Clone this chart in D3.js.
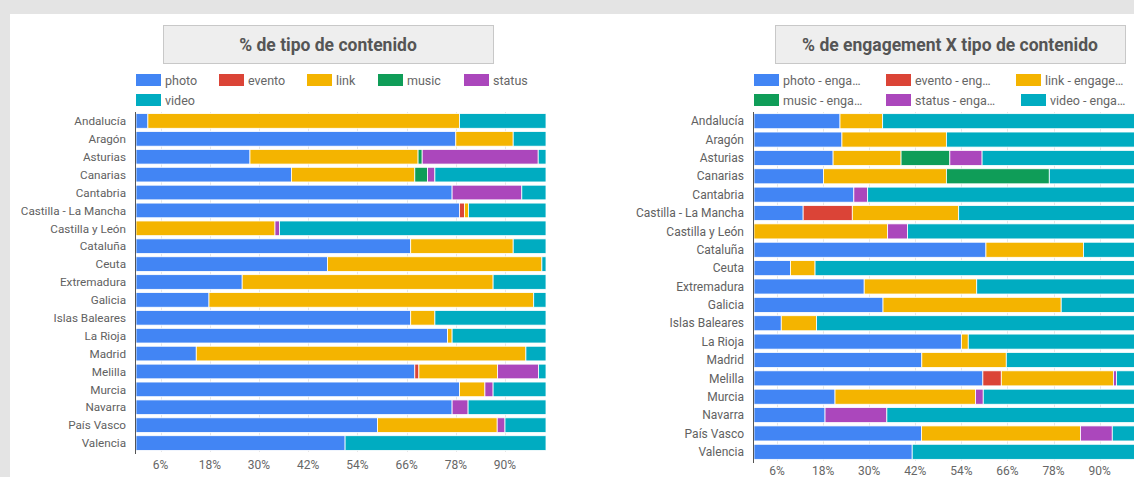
<!DOCTYPE html>
<html>
<head>
<meta charset="utf-8">
<script src="https://cdn.jsdelivr.net/npm/d3@7"></script>
<style>
  html, body { margin: 0; padding: 0; background: #e4e4e4; overflow: hidden; }
  svg { display: block; font-family: Roboto, "Noto Sans", sans-serif; }
</style>
</head>
<body>
<svg id="chart" width="1134" height="477"></svg>
<script>
const regions = ["Andalucía", "Aragón", "Asturias", "Canarias", "Cantabria",
  "Castilla - La Mancha", "Castilla y León", "Cataluña", "Ceuta", "Extremadura",
  "Galicia", "Islas Baleares", "La Rioja", "Madrid", "Melilla", "Murcia",
  "Navarra", "País Vasco", "Valencia"];

const seriesKeys = ["photo", "evento", "link", "music", "status", "video"];
const seriesColors = ["#4285f4", "#db4437", "#f4b400", "#0f9d58", "#ab47bc", "#00acc1"];
const tickValues = [6, 18, 30, 42, 54, 66, 78, 90];

// % de tipo de contenido
const photoPct  = [2.9, 78.0, 27.8, 37.9, 77.1, 78.9, 0, 67.0, 46.7, 25.9, 17.8, 67.0, 76.0, 14.7, 68.0, 78.9, 77.1, 58.9, 51.0];
const eventoPct = [0, 0, 0, 0, 0, 1.2, 0, 0, 0, 0, 0, 0, 0, 0, 1.0, 0, 0, 0, 0];
const linkPct   = [76.0, 14.0, 41.0, 30.1, 0, 1.0, 33.9, 25.0, 52.3, 61.2, 79.2, 5.9, 1.1, 80.4, 19.2, 6.2, 0, 29.2, 0];
const musicPct  = [0, 0, 1.0, 3.1, 0, 0, 0, 0, 0, 0, 0, 0, 0, 0, 0, 0, 0, 0, 0];
const statusPct = [0, 0, 28.3, 1.8, 17.0, 0, 1.1, 0, 0, 0, 0, 0, 0, 0, 10.0, 2.0, 3.9, 1.9, 0];
const videoPct  = [21.1, 8.0, 1.9, 27.1, 5.9, 18.9, 65.0, 8.0, 1.0, 12.9, 3.0, 27.1, 22.9, 4.9, 1.8, 12.9, 19.0, 10.0, 49.0];

// % de engagement X tipo de contenido
const photoEng  = [22.4, 22.9, 20.6, 18.1, 26.0, 12.8, 0, 60.4, 9.5, 28.7, 33.6, 7.1, 54.0, 43.7, 59.6, 21.1, 18.5, 43.6, 41.2];
const eventoEng = [0, 0, 0, 0, 0, 12.8, 0, 0, 0, 0, 0, 0, 0, 0, 4.8, 0, 0, 0, 0];
const linkEng   = [11.1, 27.2, 17.7, 32.0, 0, 27.7, 34.8, 25.4, 6.4, 29.3, 46.4, 9.2, 1.8, 22.0, 29.2, 36.6, 0, 41.4, 0];
const musicEng  = [0, 0, 12.7, 26.8, 0, 0, 0, 0, 0, 0, 0, 0, 0, 0, 0, 0, 0, 0, 0];
const statusEng = [0, 0, 8.4, 0, 3.6, 0, 5.2, 0, 0, 0, 0, 0, 0, 0, 0.8, 2.0, 16.1, 8.3, 0];
const videoEng  = [66.5, 49.9, 40.6, 23.1, 70.4, 46.7, 60.0, 14.2, 84.1, 42.0, 20.0, 83.7, 44.2, 34.3, 5.6, 40.3, 65.4, 6.7, 58.8];

function toRows(cols)
{
    return regions.map((name, i) => {
        const row = { name };
        seriesKeys.forEach((k, j) => row[k] = cols[j][i]);
        return row;
    });
}

const svg = d3.select("#chart");
const color = d3.scaleOrdinal(seriesKeys, seriesColors);

// white card behind both charts
svg.append("rect")
    .attr("x", 10).attr("y", 14)
    .attr("width", 1124).attr("height", 463)
    .attr("fill", "#fff");

function drawChart(opts)
{
    const { rows, title, titleBox, legendLabels, legendPos, xRange, yRange, tickY, labelSize } = opts;

    const x = d3.scaleLinear().domain([0, 100]).range(xRange);
    const y = d3.scaleBand().domain(regions).range(yRange).paddingInner(0.18).paddingOuter(0.09);

    const g = svg.append("g");

    // title box
    g.append("rect")
        .attr("x", titleBox[0] + 0.5).attr("y", titleBox[1] + 0.5)
        .attr("width", titleBox[2]).attr("height", titleBox[3])
        .attr("fill", "#eeeeee")
        .attr("stroke", "#c8c8c8");
    g.append("text")
        .attr("x", titleBox[0] + titleBox[2] / 2)
        .attr("y", titleBox[1] + titleBox[3] / 2 + 6.5)
        .attr("text-anchor", "middle")
        .attr("font-size", 17.5)
        .attr("font-weight", "bold")
        .attr("fill", "#555")
        .text(title);

    // legend
    const legend = g.append("g")
      .selectAll("g")
      .data(seriesKeys)
      .join("g")
        .attr("transform", (d, i) => `translate(${legendPos[i][0]},${legendPos[i][1]})`);
    legend.append("rect")
        .attr("y", -6).attr("width", 25).attr("height", 12)
        .attr("fill", d => color(d));
    legend.append("text")
        .attr("x", 29).attr("y", 4.5)
        .attr("font-size", 12.5)
        .attr("fill", "#666")
        .text((d, i) => legendLabels[i]);

    // gridlines
    g.append("g")
      .selectAll("line")
      .data(tickValues)
      .join("line")
        .attr("x1", d => Math.round(x(d)) + 0.5).attr("x2", d => Math.round(x(d)) + 0.5)
        .attr("y1", yRange[0]).attr("y2", yRange[1])
        .attr("stroke", "#e6e6e6");

    // stacked bars
    const stacked = d3.stack().keys(seriesKeys)(rows);
    g.append("g")
      .selectAll("g")
      .data(stacked)
      .join("g")
        .attr("fill", d => color(d.key))
      .selectAll("rect")
      .data(d => d.filter(s => s[1] - s[0] > 0))
      .join("rect")
        .attr("x", d => x(d[0]))
        .attr("y", d => y(d.data.name))
        .attr("width", d => x(d[1]) - x(d[0]))
        .attr("height", y.bandwidth())
        .attr("stroke", "#fff")
        .attr("stroke-width", 0.8);

    // category labels
    g.append("g")
      .selectAll("text")
      .data(regions)
      .join("text")
        .attr("x", xRange[0] - 10)
        .attr("y", d => y(d) + y.bandwidth() / 2 + 4.2)
        .attr("text-anchor", "end")
        .attr("font-size", labelSize)
        .attr("fill", "#616161")
        .text(d => d);

    // tick labels
    g.append("g")
      .selectAll("text")
      .data(tickValues)
      .join("text")
        .attr("x", d => x(d))
        .attr("y", tickY)
        .attr("text-anchor", "middle")
        .attr("font-size", 12)
        .attr("fill", "#666")
        .text(d => d + "%");

    // baseline
    g.append("line")
        .attr("x1", xRange[0] - 0.5).attr("x2", xRange[0] - 0.5)
        .attr("y1", yRange[0]).attr("y2", yRange[1] + 2)
        .attr("stroke", "#555");
}

drawChart({
    rows: toRows([photoPct, eventoPct, linkPct, musicPct, statusPct, videoPct]),
    title: "% de tipo de contenido",
    titleBox: [163, 25, 330, 38],
    legendLabels: ["photo", "evento", "link", "music", "status", "video"],
    legendPos: [[136, 80], [219, 80], [307, 80], [378, 80], [464, 80], [136, 100]],
    xRange: [136, 546],
    yRange: [112, 452],
    tickY: 469,
    labelSize: 11.7
});

drawChart({
    rows: toRows([photoEng, eventoEng, linkEng, musicEng, statusEng, videoEng]),
    title: "% de engagement X tipo de contenido",
    titleBox: [775, 25, 350, 38],
    legendLabels: ["photo - enga…", "evento - eng…", "link - engage…", "music - enga…", "status - enga…", "video - enga…"],
    legendPos: [[754, 80], [886, 80], [1016, 80], [754, 100], [886, 100], [1021, 100]],
    xRange: [754, 1138],
    yRange: [112, 461],
    tickY: 475,
    labelSize: 12
});
</script>
</body>
</html>
